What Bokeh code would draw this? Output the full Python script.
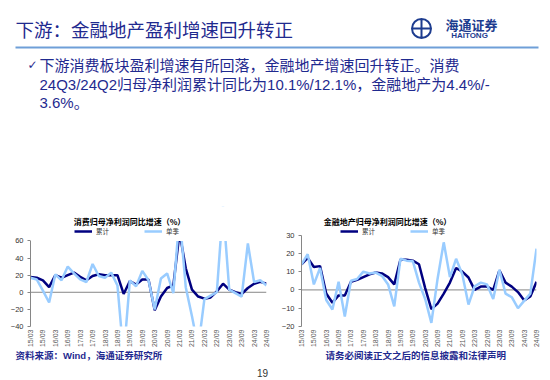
import math
from bokeh.plotting import figure
from bokeh.models import (Range1d, FixedTicker, LinearAxis, Legend, LegendItem, Label,
                          BoxAnnotation, Span)
from bokeh.layouts import column, row
from bokeh.embed import file_html
from bokeh.resources import INLINE
from bokeh.core.properties import value

# ---------------- data ----------------
quarters = ["15/03", "15/06", "15/09", "15/12", "16/03", "16/06", "16/09", "16/12",
            "17/03", "17/06", "17/09", "17/12", "18/03", "18/06", "18/09", "18/12",
            "19/03", "19/06", "19/09", "19/12", "20/03", "20/06", "20/09", "20/12",
            "21/03", "21/06", "21/09", "21/12", "22/03", "22/06", "22/09", "22/12",
            "23/03", "23/06", "23/09", "23/12", "24/03", "24/06", "24/09"]
tick_labels = ["15/03", "15/09", "16/03", "16/09", "17/03", "17/09", "18/03", "18/09",
               "19/03", "19/09", "20/03", "20/09", "21/03", "21/09", "22/03", "22/09",
               "23/03", "23/09", "24/03", "24/09"]

consumer_cum = [18, 17, 14, 6, 20, 17, 20, 23, 18, 14, 19, 21, 20, 20, 20, -2,
                13, 9, 15, 15, -21, -5, 5, 8, 70, 28, 3, -5, -7.5, -6, 1, 10,
                3, 0, -2, 5, 10, 12.1, 10.1]
consumer_single = [17, 15, 2, -12, 21, 14, 30, 22, 15, 12, 33, 19, 17, 23, 8, -75,
                   14, 7, 25, 14, -20, 16, 22, -1, 90, 6, -28, -65, -8, -4, 0, 100,
                   3, -1, -5, 57, 12, 14, 8]
fin_cum = [14, 17.5, 12.5, 13, -2, -7, -3, -3, 4.5, 5.5, 7, 8.5, 9.5, 9, 7, 3,
           16.6, 16.5, 16, 14, 1, -10.5, -7.5, -2, 4, 12, 10, 6.8, 0, 1.8, 1.8, 0,
           10.7, 4, 1.8, -1.2, -5.7, -3.6, 4.4]
fin_single = [14, 19.5, 3, 12, -5.5, -10.7, 4.5, -14.5, 5, 6, 10, 9, 9.5, 7.7, 3, -9,
              17, 16, 15.7, 4, -5, -18, 6, 26, 7, 17, 8.6, -8, 2, 4, 3, -5,
              11, -2, -4, -10, -6, -2, 22.5]

consumer_yticks = [-40, -20, 0, 20, 40, 60]
fin_yticks = [-20, -10, 0, 10, 20, 30]

series_names = ["累计", "单季"]
chart_titles = ["消费归母净利润同比增速（%）", "金融地产归母净利润同比增速（%）"]

slide_title = "下游：金融地产盈利增速回升转正"
bullet_lines = ["下游消费板块盈利增速有所回落，金融地产增速回升转正。消费",
                "24Q3/24Q2归母净利润累计同比为10.1%/12.1%，金融地产为4.4%/-",
                "3.6%。"]
source_text = "资料来源：Wind，海通证券研究所"
disclaimer = "请务必阅读正文之后的信息披露和法律声明"
page_no = "19"

# ---------------- styles ----------------
NAVY_LINE = "#000080"
LIGHT_LINE = "#99CCFF"
AXIS_GRAY = "#868686"
TEXT_BLUE = "#1f2a8f"
CJK = "Noto Sans CJK SC"
MIXED = "'Liberation Sans', 'Noto Sans CJK SC'"

xs = list(range(len(quarters)))
tick_idx = [quarters.index(t) for t in tick_labels]
overrides = {i: quarters[i] for i in tick_idx}

CH = 144          # chart canvas height (page y 206..350)
BB = 22           # space for tick labels under frame
FRAME_H = CH - BB


def make_chart(title, cum, single, yticks, width, bl, br, axis_px, title_pos, legend_pos):
    ymin, ymax = yticks[0], yticks[-1]
    # the tick span occupies axis_px pixels at the bottom of the frame; headroom holds title/legend
    ytop = ymin + (ymax - ymin) * FRAME_H / axis_px
    p = figure(width=width, height=CH,
               x_range=Range1d(0, len(quarters) - 1),
               y_range=Range1d(ymin, ytop),
               x_axis_type=None, y_axis_type=None,
               output_backend="svg", toolbar_location=None,
               min_border_left=bl, min_border_right=br,
               min_border_top=0, min_border_bottom=BB)
    p.outline_line_color = None
    p.background_fill_color = "white"
    p.border_fill_color = "white"

    xa = LinearAxis(ticker=FixedTicker(ticks=tick_idx), major_label_overrides=overrides,
                    major_label_orientation=math.pi / 2,
                    axis_line_color=None, major_tick_line_color=None, minor_tick_line_color=None,
                    major_tick_out=0, major_tick_in=0,
                    major_label_text_font_size="7px", major_label_text_color="#595959",
                    major_label_text_font="Liberation Sans", major_label_standoff=3)
    p.add_layout(xa, "below")
    ya = LinearAxis(ticker=FixedTicker(ticks=yticks), bounds=(ymin, ymax),
                    axis_line_color=AXIS_GRAY, major_tick_line_color=AXIS_GRAY,
                    minor_tick_line_color=None, major_tick_out=3, major_tick_in=0,
                    major_label_text_font_size="7.5px", major_label_text_color="#333333",
                    major_label_text_font="Liberation Sans", major_label_standoff=4)
    p.add_layout(ya, "left")

    p.add_layout(Span(location=0, dimension="width", line_color=AXIS_GRAY, line_width=1,
                      level="underlay"))

    r1 = p.line(xs, cum, line_color=NAVY_LINE, line_width=2.5)
    r2 = p.line(xs, single, line_color=LIGHT_LINE, line_width=2.5)

    # values beyond the axis maximum are hidden, as in the original chart
    p.add_layout(BoxAnnotation(bottom=ymax, fill_color="white", fill_alpha=1, line_color=None))

    legend = Legend(items=[LegendItem(label=series_names[0], renderers=[r1]),
                           LegendItem(label=series_names[1], renderers=[r2])],
                    orientation="horizontal", location=legend_pos,
                    glyph_width=18, glyph_height=8, label_height=8, label_width=10,
                    label_text_font_size="6.5px", label_text_font=CJK, label_text_color="#333333",
                    label_standoff=4, spacing=35, padding=0, margin=0,
                    border_line_color=None, background_fill_alpha=0)
    p.add_layout(legend)

    p.add_layout(Label(x=title_pos[0], y=title_pos[1], x_units="screen", y_units="screen", text=title,
                       text_font=CJK, text_font_size="8px", text_font_style="bold",
                       text_color="#000000", text_align="center", text_baseline="middle"))
    return p


left = make_chart(chart_titles[0], consumer_cum, consumer_single, consumer_yticks,
                  width=278, bl=30, br=12, axis_px=87, title_pos=(99, 105), legend_pos=(44, 90))
right = make_chart(chart_titles[1], fin_cum, fin_single, fin_yticks,
                   width=272, bl=20, br=14, axis_px=93, title_pos=(86, 105), legend_pos=(39, 90))

# ---------------- header ----------------
header = figure(width=550, height=206, x_range=Range1d(0, 550), y_range=Range1d(206, 0),
                x_axis_type=None, y_axis_type=None, output_backend="svg",
                toolbar_location=None, min_border=0)
header.outline_line_color = None
header.text(x=[15], y=[28], text=[slide_title], text_font=value(CJK), text_font_size="18.5px",
            text_color=TEXT_BLUE, text_baseline="middle", text_align="left")
header.add_layout(BoxAnnotation(left=15, right=538, top=46, bottom=48,
                                fill_color="#6f9fd8", fill_alpha=1, line_color=None))
header.scatter(x=[421], y=[28], marker="circle_cross", size=19, fill_color=None,
               line_color="#1d3c8f", line_width=2)
header.text(x=[471], y=[24], text=["海通证券"], text_font=value(CJK), text_font_size="13px",
            text_font_style="bold", text_color="#1d3c8f", text_baseline="middle", text_align="center")
header.text(x=[469], y=[35], text=["HAITONG"], text_font=value("Liberation Sans"),
            text_font_size="8px", text_font_style="bold", text_color="#1d3c8f",
            text_baseline="middle", text_align="center")
header.text(x=[32], y=[64], text=["✓"], text_font=value("DejaVu Sans"), text_font_size="12px",
            text_color=TEXT_BLUE, text_baseline="middle", text_align="center")
header.text(x=[39, 39, 39], y=[65, 84, 102], text=bullet_lines, text_font=value(MIXED),
            text_font_size="15px", text_color=TEXT_BLUE, text_baseline="middle", text_align="left")

# ---------------- footer (page y 350..380) ----------------
footer = figure(width=550, height=30, x_range=Range1d(0, 550), y_range=Range1d(30, 0),
                x_axis_type=None, y_axis_type=None, output_backend="svg",
                toolbar_location=None, min_border=0)
footer.outline_line_color = None
footer.text(x=[15, 325], y=[5, 5], text=[source_text, disclaimer], text_font=value(MIXED),
            text_font_size="9.5px", text_font_style="bold", text_color=TEXT_BLUE,
            text_baseline="middle", text_align="left")
footer.text(x=[262], y=[22], text=[page_no], text_font=value("Liberation Sans"),
            text_font_size="10px", text_color="#333333", text_baseline="middle", text_align="center")

layout = column(header, row(left, right, spacing=0), footer, spacing=0)
open("out.html", "w").write(file_html(layout, INLINE))
